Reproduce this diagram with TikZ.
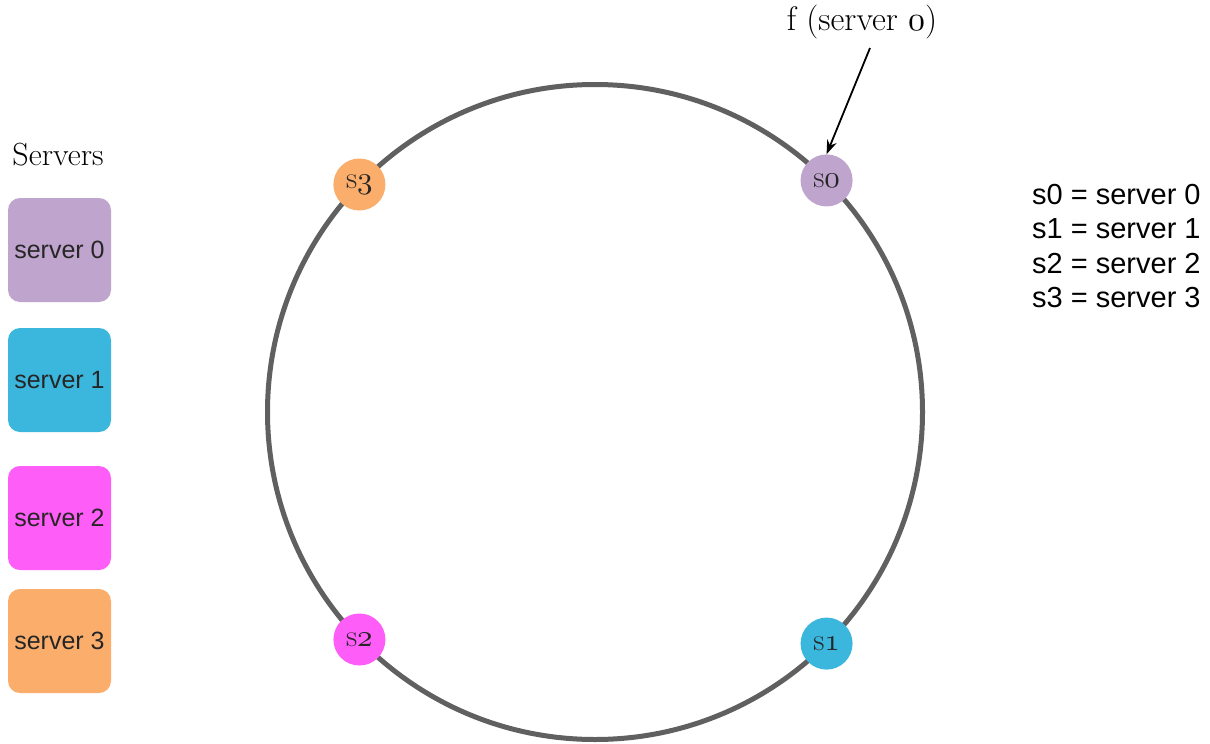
\documentclass[tikz,border=0pt]{standalone}
\usepackage{fontspec}
\usepackage{graphicx}
\newfontfamily\arialish{Liberation Sans}
\usetikzlibrary{arrows.meta,calc}
\makeatletter
\newcommand\osn[1]{{\pgfmathsetmacro\osnf{\f@size/10}\scalebox{\osnf}{\fontsize{10}{12}\usefont{OML}{cmm}{m}{it}#1}}}
\makeatother
\definecolor{cpurple}{HTML}{BFA4CD}
\definecolor{cblue}{HTML}{3BB6DC}
\definecolor{cmag}{HTML}{FF5DF8}
\definecolor{corange}{HTML}{FBAE6B}
\definecolor{ringgray}{HTML}{606060}
\begin{document}
\begin{tikzpicture}[x=1pt,y=-1pt,
  srvbox/.style={draw=none,rounded corners=12pt,minimum width=103pt,minimum height=104pt,inner sep=0pt,font=\arialish\fontsize{25}{30}\selectfont,text=black!85},
  dot/.style={circle,draw=none,minimum size=52pt,inner sep=0pt,font=\fontsize{31}{34}\selectfont,text=black!85},
  legendtext/.style={font=\arialish\fontsize{29}{34.5}\selectfont,align=left,anchor=north west,inner sep=0pt},
  serif/.style={inner sep=0pt}]
\useasboundingbox[fill=white] (0,0) rectangle (1210,744);
\coordinate (c) at (595,412);
\node[circle,draw=ringgray,line width=5pt,minimum size=655pt,inner sep=0pt] (ring) at (c) {};
\node[dot,fill=cpurple] (s0) at ($(c)+(-45:327.5)$) {s\osn{0}};
\node[dot,fill=cblue] (s1) at ($(c)+(45:327.5)$) {s\osn{1}};
\node[dot,fill=cmag] (s2) at ($(c)+(136:327.5)$) {s\osn{2}};
\node[dot,fill=corange] (s3) at ($(c)+(-136:327.5)$) {s\osn{3}};
\node[serif,font=\fontsize{34}{40}\selectfont] (flabel) at (862,22) {f (server \osn{0})};
\coordinate (fstart) at (870,48);
\draw[-{Stealth[length=14pt,width=10pt]},line width=1.8pt] (fstart) -- (s0.north);
\node[serif,font=\fontsize{32}{38}\selectfont] (title) at (58,155) {Servers};
\node[srvbox,fill=cpurple] (b0) at (59.5,250) {server 0};
\node[srvbox,fill=cblue] (b1) at (59.5,380) {server 1};
\node[srvbox,fill=cmag] (b2) at (59.5,518) {server 2};
\node[srvbox,fill=corange] (b3) at (59.5,641) {server 3};
\node[legendtext] (legend) at (1032,184) {s0 = server 0\\s1 = server 1\\s2 = server 2\\s3 = server 3};
\end{tikzpicture}
\end{document}
